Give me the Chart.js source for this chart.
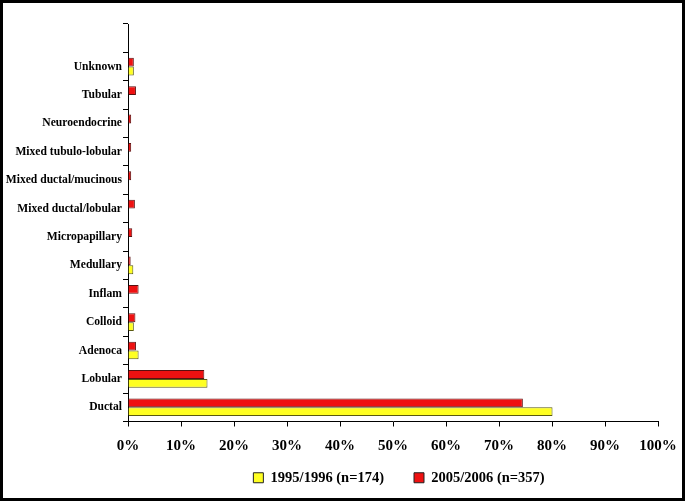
<!DOCTYPE html>
<html>
<head>
<meta charset="utf-8">
<script src="https://cdn.jsdelivr.net/npm/chart.js@4"></script>
<style>
  html, body { margin: 0; padding: 0; background: #fff; }
  #wrap { position: relative; width: 685px; height: 501px; }
  #frame { position: absolute; left: 0; top: 0; width: 685px; height: 501px; box-sizing: border-box;
           border: 3px solid #000; pointer-events: none; }
</style>
</head>
<body>
<div id="wrap">
  <canvas id="chart" width="685" height="501"></canvas>
  <div id="frame"></div>
</div>
<script>
// Histological types, top to bottom (first slot left blank, as in the original)
const categories = ['', 'Unknown', 'Tubular', 'Neuroendocrine', 'Mixed tubulo-lobular',
  'Mixed ductal/mucinous', 'Mixed ductal/lobular', 'Micropapillary', 'Medullary',
  'Inflam', 'Colloid', 'Adenoca', 'Lobular', 'Ductal'];

// percentages
const values2005 = [null, 1.1, 1.5, 0.6, 0.6, 0.6, 1.3, 0.8, 0.5, 2.0, 1.4, 1.5, 14.4, 74.5];
const values1995 = [null, 1.1, 0, 0, 0, 0, 0, 0, 1.0, 0, 1.1, 2.0, 15.0, 80.1];

const xTicks = [0, 10, 20, 30, 40, 50, 60, 70, 80, 90, 100];

const FONT = 'Liberation Serif';

// the original legend sits right of centre and a little higher than chart.js puts it
const shiftLegend = {
  id: 'shiftLegend',
  afterLayout(chart) {
    const lg = chart.legend;
    lg.left += 70;
    lg.right += 70;
    lg.top -= 12;
    lg.bottom -= 12;
  }
};

new Chart(document.getElementById('chart'), {
  type: 'bar',
  data: {
    labels: categories,
    datasets: [
      {
        label: '2005/2006 (n=357)',
        data: values2005,
        backgroundColor: '#ee1111',
        borderColor: '#5a1010',
        borderWidth: 1,
        barPercentage: 1,
        categoryPercentage: 0.62,
      },
      {
        label: '1995/1996 (n=174)',
        data: values1995,
        backgroundColor: '#ffff22',
        borderColor: '#5a5a10',
        borderWidth: 1,
        barPercentage: 1,
        categoryPercentage: 0.62,
      }
    ]
  },
  plugins: [shiftLegend],
  options: {
    indexAxis: 'y',
    responsive: false,
    animation: false,
    layout: { padding: { left: 0, right: 27, top: 24, bottom: -6 } },
    plugins: {
      tooltip: { enabled: false },
      legend: {
        position: 'bottom',
        reverse: true,
        labels: {
          color: '#000',
          boxWidth: 10,
          boxHeight: 10,
          padding: 30,
          font: { family: FONT, size: 14.5, weight: 'bold' },
          generateLabels(chart) {
            const items = Chart.defaults.plugins.legend.labels.generateLabels(chart);
            items.forEach(it => { it.strokeStyle = '#222'; it.lineWidth = 1; });
            return items;
          }
        }
      }
    },
    scales: {
      x: {
        min: 0,
        max: 100,
        afterBuildTicks(scale) { scale.ticks = xTicks.map(v => ({ value: v })); },
        afterFit(scale) {
          scale.height = 31;
          scale.paddingLeft = 0;
          scale.paddingRight = 0;
        },
        ticks: {
          color: '#000',
          padding: 11,
          maxRotation: 0,
          font: { family: FONT, size: 15, weight: 'bold' },
          callback: v => v + '%'
        },
        grid: { drawOnChartArea: false, drawTicks: true, tickLength: 5, color: '#000' },
        border: { color: '#000', width: 1 }
      },
      y: {
        afterFit(scale) { scale.width = 128; },
        ticks: {
          color: '#000',
          padding: 1,
          font: { family: FONT, size: 11.6, weight: 'bold' }
        },
        grid: { drawOnChartArea: false, drawTicks: true, tickLength: 5, color: '#000', offset: true },
        border: { color: '#000', width: 1 }
      }
    }
  }
});
</script>
</body>
</html>
